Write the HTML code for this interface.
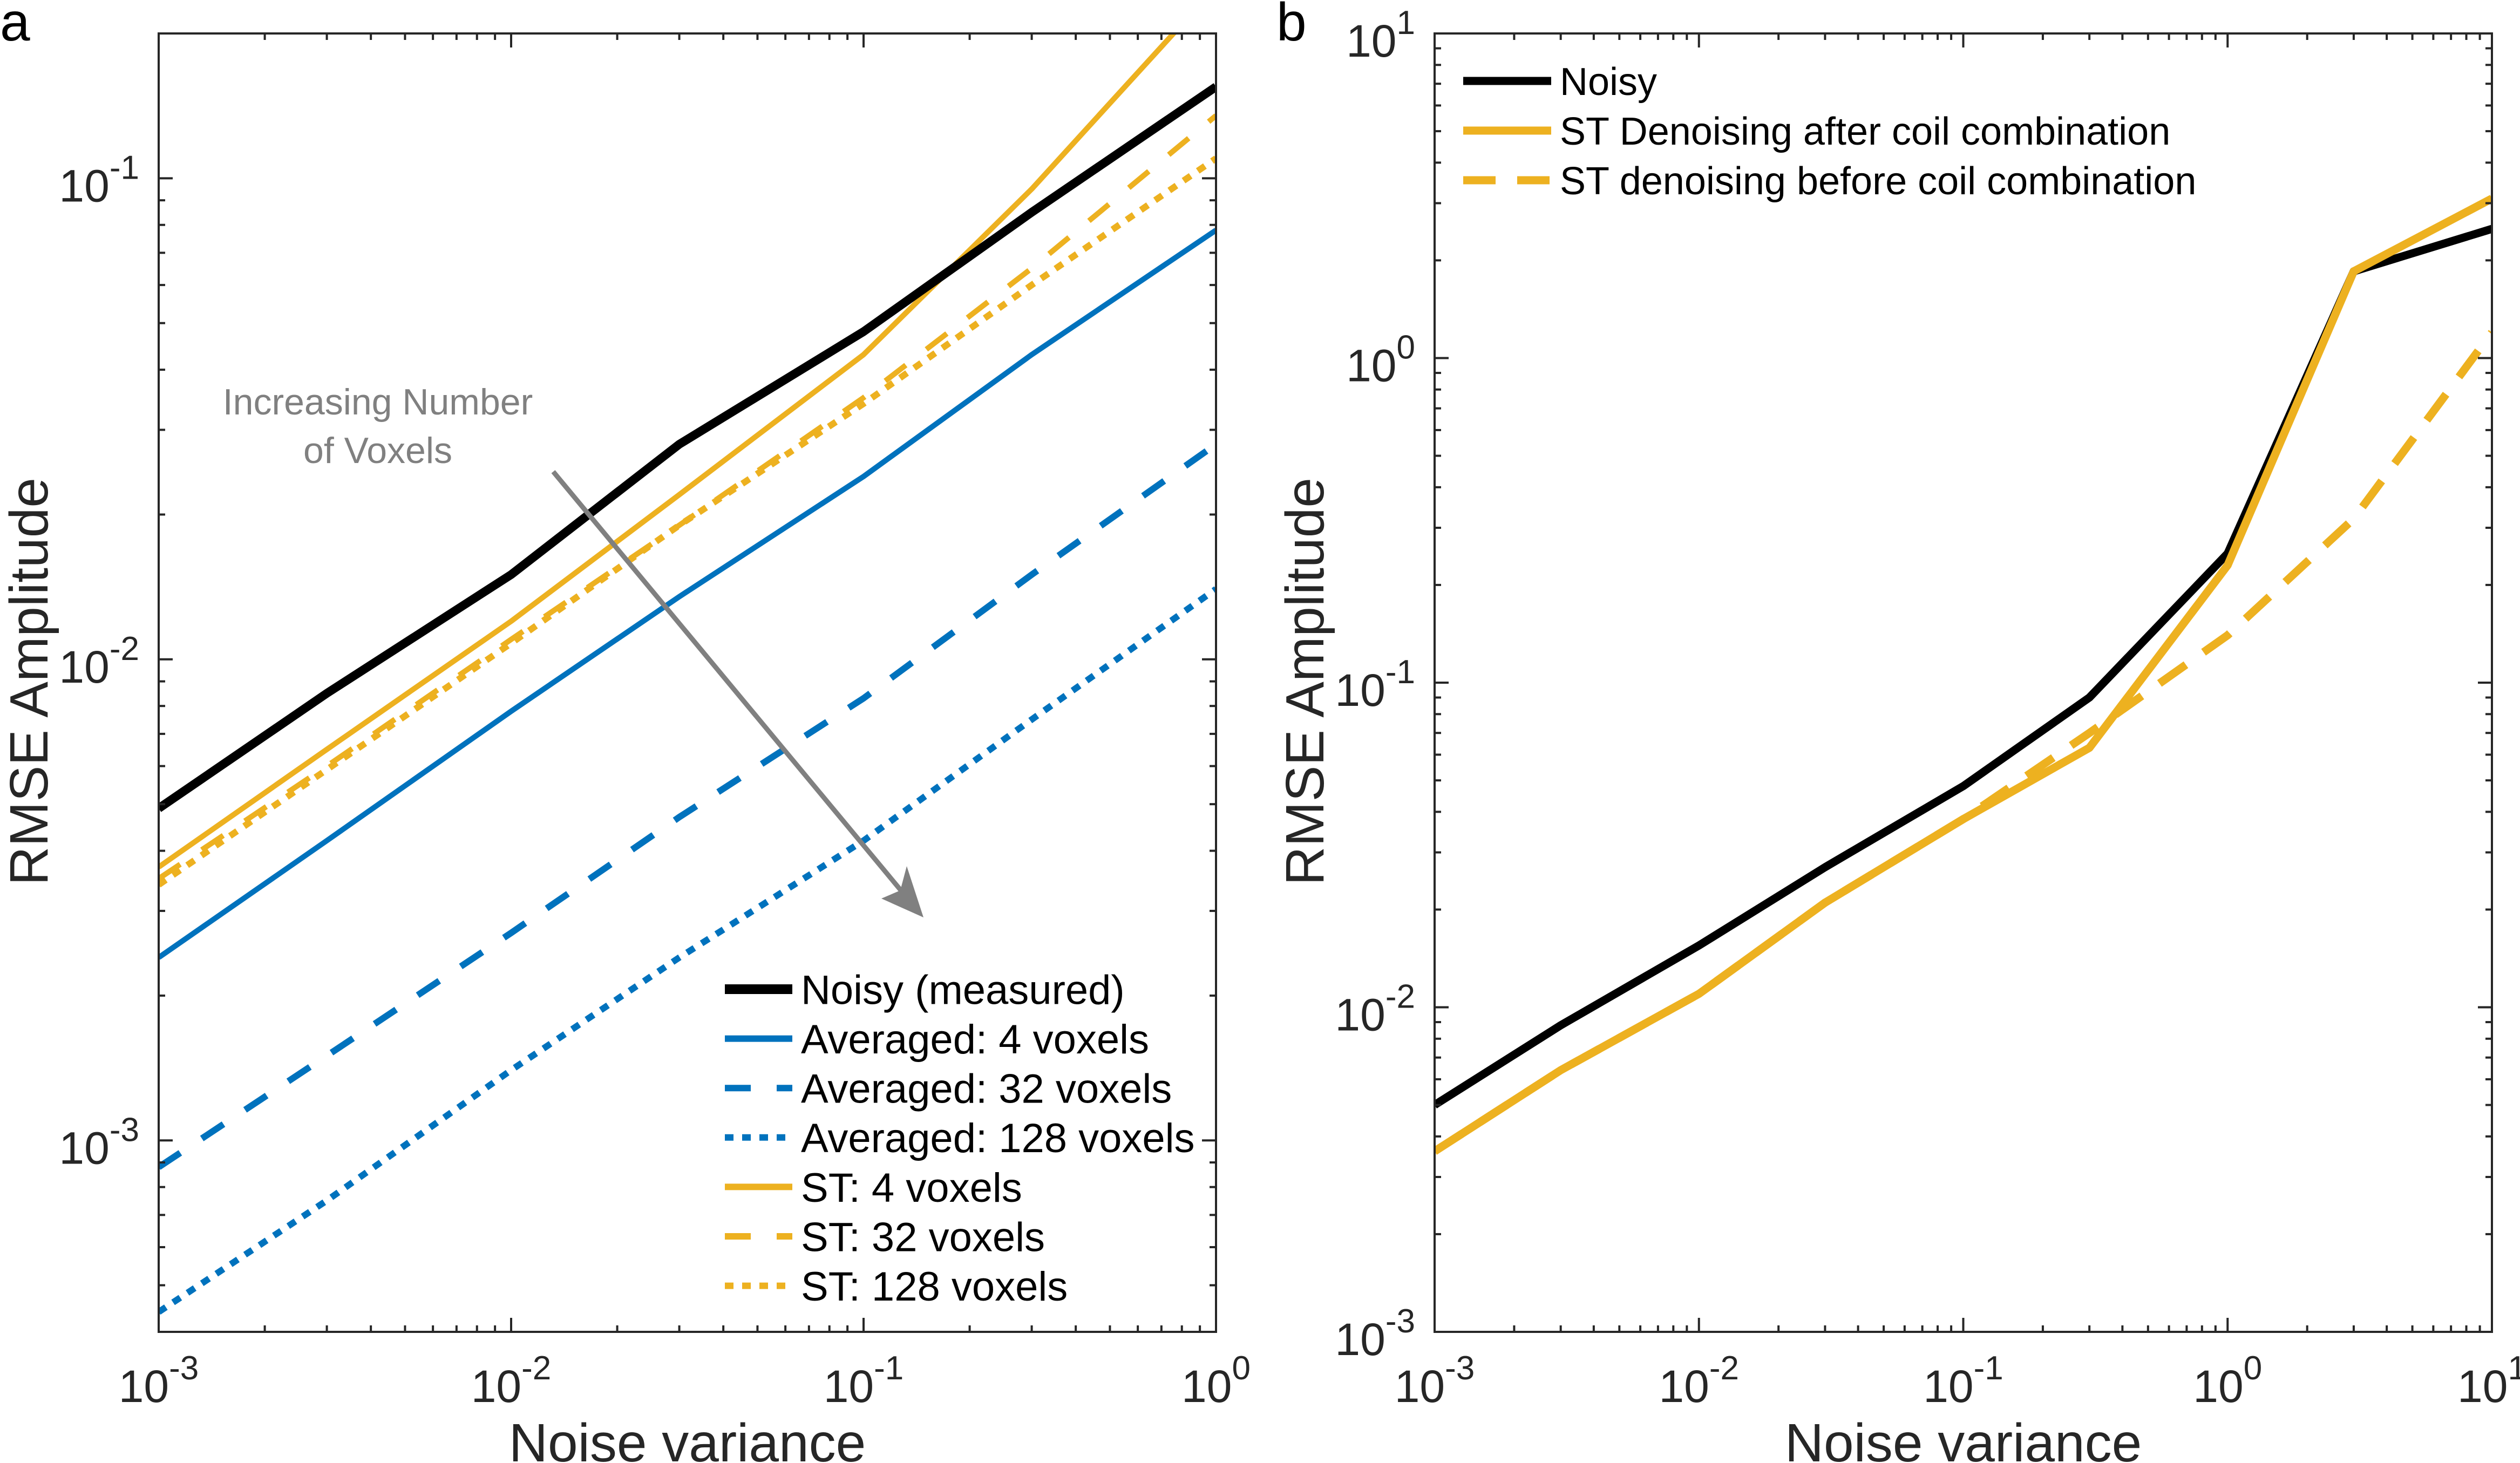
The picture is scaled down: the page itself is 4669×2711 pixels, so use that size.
<!DOCTYPE html>
<html><head><meta charset="utf-8"><style>
html,body{margin:0;padding:0;background:#fff;}
svg{display:block;font-family:"Liberation Sans",sans-serif;}
</style></head><body>
<svg id="fig" width="4669" height="2711" viewBox="0 0 4669 2711" xmlns="http://www.w3.org/2000/svg">
<text x="0" y="75" font-size="100" fill="#000">a</text>
<text x="2365" y="75" font-size="100" fill="#000">b</text>
<g id="pa"></g>
<g id="pb"></g>
</svg>
<script>
// ---- Panel a data ----
const xA = [0.001, 0.003, 0.01, 0.03, 0.1, 0.3, 1];
const noisyA = [0.0049, 0.0085, 0.015, 0.028, 0.048, 0.085, 0.155];
const avg4 = [0.0024, 0.0042, 0.0078, 0.0135, 0.024, 0.043, 0.078];
const avg32 = [0.00088, 0.0015, 0.0027, 0.0047, 0.0083, 0.015, 0.028];
const avg128 = [0.00044, 0.00075, 0.0014, 0.0024, 0.0042, 0.0075, 0.014];
const st4 = [0.0037, 0.0065, 0.012, 0.022, 0.043, 0.095, 0.25];
const st32 = [0.0035, 0.006, 0.011, 0.019, 0.035, 0.065, 0.135];
const st128 = [0.0034, 0.0059, 0.0108, 0.019, 0.034, 0.06, 0.11];
const legendA = ["Noisy (measured)", "Averaged: 4 voxels", "Averaged: 32 voxels", "Averaged: 128 voxels", "ST: 4 voxels", "ST: 32 voxels", "ST: 128 voxels"];
const xTickExpA = [-3, -2, -1, 0];
const yTickExpA = [-3, -2, -1];
// ---- Panel b data ----
const xB = [0.001, 0.003, 0.01, 0.03, 0.1, 0.3, 1, 3, 10];
const noisyB = [0.005, 0.0088, 0.0155, 0.027, 0.048, 0.09, 0.25, 1.85, 2.5];
const stAfter = [0.0036, 0.0064, 0.011, 0.021, 0.038, 0.063, 0.23, 1.85, 3.1];
const stBefore = [0.0036, 0.0064, 0.011, 0.021, 0.038, 0.07, 0.14, 0.32, 1.2];
const legendB = ["Noisy", "ST Denoising after coil combination", "ST denoising before coil combination"];
const xTickExpB = [-3, -2, -1, 0, 1];
const yTickExpB = [-3, -2, -1, 0, 1];

const NS = "http://www.w3.org/2000/svg";
const BLUE = "#0072BD", YEL = "#EDB120";
function el(tag, attrs, parent) {
  const e = document.createElementNS(NS, tag);
  for (const k in attrs) e.setAttribute(k, attrs[k]);
  parent.appendChild(e);
  return e;
}
function makeAxes(g, L, R, T, B, x0, x1, y0, y1) {
  const sx = v => L + (Math.log10(v) - x0) / (x1 - x0) * (R - L);
  const sy = v => B - (Math.log10(v) - y0) / (y1 - y0) * (B - T);
  return {sx, sy};
}
function frame(g, ax, L, R, T, B, x0, x1, y0, y1, xt, yt, prefix) {
  const fr = el("rect", {x: L, y: T, width: R - L, height: B - T, fill: "none", stroke: "#262626", "stroke-width": 4}, g);
  
  
  const tk = el("g", {stroke: "#262626", "stroke-width": 4}, g);
  
  
  for (let d = Math.floor(x0); d < Math.ceil(x1) + 1; d++) {
    for (let m = 1; m < 10; m++) {
      const v = m * Math.pow(10, d);
      const lv = Math.log10(v);
      if (lv < x0 - 1e-9 || lv > x1 + 1e-9) continue;
      const x = ax.sx(v), len = m === 1 ? 26 : 12;
      el("line", {x1: x, y1: B, x2: x, y2: B - len}, tk);
      el("line", {x1: x, y1: T, x2: x, y2: T + len}, tk);
    }
  }
  for (let d = Math.floor(y0); d < Math.ceil(y1) + 1; d++) {
    for (let m = 1; m < 10; m++) {
      const v = m * Math.pow(10, d);
      const lv = Math.log10(v);
      if (lv < y0 - 1e-9 || lv > y1 + 1e-9) continue;
      const y = ax.sy(v), len = m === 1 ? 26 : 12;
      el("line", {x1: L, y1: y, x2: L + len, y2: y}, tk);
      el("line", {x1: R, y1: y, x2: R - len, y2: y}, tk);
    }
  }
  xt.forEach(e => {
    const t = el("text", {x: ax.sx(Math.pow(10, e)), y: 2598, "font-size": 84, fill: "#262626", "text-anchor": "middle"}, g);
    
    
    t.appendChild(document.createTextNode("10"));
    const s = el("tspan", {dy: -42, "font-size": 62}, t);
    s.textContent = String(e);
  });
  yt.forEach(e => {
    const y = ax.sy(Math.pow(10, e));
    const t = el("text", {x: L - 36, y: y + 43, "font-size": 84, fill: "#262626", "text-anchor": "end"}, g);
    
    
    t.appendChild(document.createTextNode("10"));
    const s = el("tspan", {dy: -42, "font-size": 62}, t);
    s.textContent = String(e);
  });
}
function series(g, ax, xs, ys, color, w, dash, name, clipId) {
  const pts = xs.map((x, i) => ax.sx(x).toFixed(1) + "," + ax.sy(ys[i]).toFixed(1)).join(" ");
  const a = {points: pts, fill: "none", stroke: color, "stroke-width": w, "stroke-linejoin": "round"};
  if (dash) a["stroke-dasharray"] = dash;
  if (clipId) a["clip-path"] = "url(#" + clipId + ")";
  const p = el("polyline", a, g);
  
  
}
function legendRow(g, x1, x2, y, color, w, dash, label, name, fs) {
  const a = {x1: x1, y1: y, x2: x2, y2: y, stroke: color, "stroke-width": w};
  if (dash) a["stroke-dasharray"] = dash;
  el("line", a, g);
  const t = el("text", {x: x2 + 16, y: y + fs * 0.36, "font-size": fs, fill: "#000"}, g);
  
  
  t.textContent = label;
}

// ---------- Panel A ----------
(function () {
  const g = document.getElementById("pa");
  const L = 294, R = 2253, T = 62, B = 2468;
  const x0 = -3, x1 = 0, y0 = Math.log10(4.0e-4), y1 = Math.log10(0.2);
  const ax = makeAxes(g, L, R, T, B, x0, x1, y0, y1);
  const defs = el("defs", {}, g);
  const cp = el("clipPath", {id: "clipA"}, defs);
  el("rect", {x: L, y: T, width: R - L, height: B - T}, cp);
  series(g, ax, xA, avg128, BLUE, 12, "16 16", "series-averaged-128", "clipA");
  series(g, ax, xA, avg32, BLUE, 12, "48 48", "series-averaged-32", "clipA");
  series(g, ax, xA, avg4, BLUE, 10, null, "series-averaged-4", "clipA");
  series(g, ax, xA, st128, YEL, 12, "16 16", "series-st-128", "clipA");
  series(g, ax, xA, st32, YEL, 10, "48 48", "series-st-32", "clipA");
  series(g, ax, xA, st4, YEL, 10, null, "series-st-4", "clipA");
  series(g, ax, xA, noisyA, "#000", 16, null, "series-noisy-measured", "clipA");
  frame(g, ax, L, R, T, B, x0, x1, y0, y1, xTickExpA, yTickExpA, "panel-a");
  // annotation
  const an = el("g", {fill: "#808080", "font-size": 68, "text-anchor": "middle"}, g);
  
  
  el("text", {x: 700, y: 768}, an).textContent = "Increasing Number";
  el("text", {x: 700, y: 858}, an).textContent = "of Voxels";
  const ar = el("g", {}, g);
  
  
  el("line", {x1: 1025, y1: 874, x2: 1690, y2: 1675, stroke: "#808080", "stroke-width": 9}, ar);
  el("polygon", {points: "1711,1700 1633,1665 1668,1650 1680,1605", fill: "#808080"}, ar);
  // legend
  const lg = el("g", {}, g);
  
  
  const cols = ["#000", BLUE, BLUE, BLUE, YEL, YEL, YEL];
  const ws = [18, 12, 12, 12, 12, 12, 12];
  const ds = [null, null, "48 48", "16 16", null, "48 48", "16 16"];
  legendA.forEach((lab, i) => {
    legendRow(lg, 1343, 1468, 1833 + i * 91.6, cols[i], ws[i], ds[i], lab, 'legend-entry-a', 76);
  });
  const yl = el("text", {x: 0, y: 0, "font-size": 100, fill: "#262626", "text-anchor": "middle", transform: "translate(88,1263) rotate(-90)"}, g);
  
  
  yl.textContent = "RMSE Amplitude";
  const xl = el("text", {x: (L + R) / 2, y: 2708, "font-size": 100, fill: "#262626", "text-anchor": "middle"}, g);
  
  
  xl.textContent = "Noise variance";
})();

// ---------- Panel B ----------
(function () {
  const g = document.getElementById("pb");
  const L = 2658, R = 4617, T = 62, B = 2468;
  const x0 = -3, x1 = 1, y0 = -3, y1 = 1;
  const ax = makeAxes(g, L, R, T, B, x0, x1, y0, y1);
  const defs = el("defs", {}, g);
  const cp = el("clipPath", {id: "clipB"}, defs);
  el("rect", {x: L, y: T, width: R - L, height: B - T}, cp);
  series(g, ax, xB, noisyB, "#000", 15, null, "series-noisy", "clipB");
  series(g, ax, xB, stBefore, YEL, 15, "60 40", "series-st-before-coil", "clipB");
  series(g, ax, xB, stAfter, YEL, 15, null, "series-st-after-coil", "clipB");
  frame(g, ax, L, R, T, B, x0, x1, y0, y1, xTickExpB, yTickExpB, "panel-b");
  const lg = el("g", {}, g);
  
  
  const cols = ["#000", YEL, YEL];
  const ds = [null, null, "60 40"];
  legendB.forEach((lab, i) => {
    legendRow(lg, 2711, 2874, 150 + i * 92, cols[i], 15, ds[i], lab, 'legend-entry-b', 72);
  });
  const yl = el("text", {x: 0, y: 0, "font-size": 100, fill: "#262626", "text-anchor": "middle", transform: "translate(2452,1263) rotate(-90)"}, g);
  
  
  yl.textContent = "RMSE Amplitude";
  const xl = el("text", {x: (L + R) / 2, y: 2708, "font-size": 100, fill: "#262626", "text-anchor": "middle"}, g);
  
  
  xl.textContent = "Noise variance";
})();
</script>
</body></html>
